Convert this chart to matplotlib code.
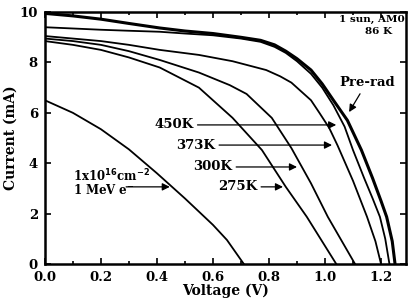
import matplotlib
matplotlib.use("Agg")
import matplotlib.pyplot as plt
from matplotlib.ticker import MultipleLocator

# I-V curves (voltage in V, current in mA)
v_irrad = [0, 0.1, 0.2, 0.3, 0.4, 0.5, 0.6, 0.65, 0.71]
i_irrad = [6.5, 6.0, 5.35, 4.55, 3.6, 2.6, 1.55, 0.95, 0]

v_275 = [0, 0.1, 0.2, 0.3, 0.41, 0.55, 0.67, 0.775, 0.86, 0.935, 1.04]
i_275 = [8.85, 8.7, 8.5, 8.2, 7.8, 7.0, 5.8, 4.52, 3.06, 1.87, 0]

v_300 = [0, 0.1, 0.2, 0.3, 0.41, 0.55, 0.66, 0.72, 0.81, 0.88, 0.95, 1.01, 1.107]
i_300 = [8.95, 8.85, 8.7, 8.45, 8.1, 7.6, 7.1, 6.75, 5.8, 4.6, 3.2, 1.87, 0]

v_373 = [0, 0.1, 0.2, 0.3, 0.41, 0.55, 0.67, 0.79, 0.84, 0.88, 0.91, 0.95, 0.98, 1.015,
         1.045, 1.1, 1.15, 1.18, 1.2]
i_373 = [9.05, 8.95, 8.85, 8.7, 8.5, 8.3, 8.05, 7.7, 7.45, 7.2, 6.9, 6.5, 6.0, 5.4,
         4.7, 3.3, 1.87, 0.9, 0]

v_450 = [0, 0.1, 0.2, 0.3, 0.41, 0.5, 0.6, 0.7, 0.77, 0.82, 0.86, 0.9, 0.95, 0.99, 1.03,
         1.07, 1.1, 1.14, 1.17, 1.196, 1.215, 1.23]
i_450 = [9.4, 9.35, 9.3, 9.26, 9.22, 9.15, 9.08, 8.95, 8.82, 8.62, 8.38, 8.05, 7.55, 7.0, 6.3,
         5.45, 4.52, 3.4, 2.6, 1.87, 1.0, 0]

v_pre = [0, 0.1, 0.2, 0.3, 0.41, 0.5, 0.6, 0.7, 0.77, 0.82, 0.86, 0.9, 0.95, 0.99, 1.03,
         1.08, 1.13, 1.17, 1.2, 1.22, 1.24, 1.25]
i_pre = [9.95, 9.85, 9.72, 9.55, 9.37, 9.25, 9.15, 9.0, 8.88, 8.7, 8.45, 8.15, 7.7, 7.15, 6.5,
         5.7, 4.52, 3.4, 2.5, 1.87, 0.9, 0]

anneal_labels = ["450K", "373K", "300K", "275K"]
anneal_text_xy = [(0.53, 5.52), (0.607, 4.72), (0.668, 3.85), (0.757, 3.06)]
anneal_tip_xy = [(1.04, 5.52), (1.025, 4.72), (0.90, 3.85), (0.85, 3.06)]

plt.rcParams['font.family'] = ['DejaVu Serif']
plt.rcParams['font.weight'] = 'bold'

fig = plt.figure(figsize=(4.08, 3.03), dpi=100)
ax = fig.add_axes([0.11, 0.129, 0.885, 0.831])

thin = dict(color='k', lw=1.3)
ax.plot(v_irrad, i_irrad, **thin)
ax.plot(v_275, i_275, **thin)
ax.plot(v_300, i_300, **thin)
ax.plot(v_373, i_373, **thin)
ax.plot(v_450, i_450, **thin)
ax.plot(v_pre, i_pre, color='k', lw=2.2)

arrow = dict(arrowstyle='-|>', color='k', lw=0.9, mutation_scale=11, relpos=(1, 0.5),
             shrinkA=1, shrinkB=0)
for lab, txy, tip in zip(anneal_labels, anneal_text_xy, anneal_tip_xy):
    ax.annotate(lab, xy=tip, xytext=txy, ha='right', va='center', fontsize=9.5,
                fontweight='bold', arrowprops=arrow)

ax.annotate("", xy=(0.446, 3.06), xytext=(0.285, 3.06), arrowprops=arrow)
ax.text(0.1, 3.5, r"1x10$^{\mathbf{16}}$cm$^{\mathbf{-2}}$", fontsize=8.5, fontweight='bold',
        ha='left', va='center')
ax.text(0.1, 2.95, r"1 MeV e$^{\mathbf{-}}$", fontsize=8.5, fontweight='bold',
        ha='left', va='center')

ax.annotate("Pre-rad", xy=(1.086, 6.03), xytext=(1.15, 7.22), ha='center', va='center',
            fontsize=9.5, fontweight='bold',
            arrowprops=dict(arrowstyle='-|>', color='k', lw=0.9, mutation_scale=11,
                            shrinkA=2, shrinkB=0))

ax.text(1.283, 9.7, "1 sun, AM0", ha='right', va='center', fontsize=7.5, fontweight='bold')
ax.text(1.19, 9.22, "86 K", ha='center', va='center', fontsize=7.5, fontweight='bold')

ax.set_xlim(0, 1.289)
ax.set_ylim(0, 10)
ax.xaxis.set_major_locator(MultipleLocator(0.2))
ax.xaxis.set_minor_locator(MultipleLocator(0.1))
ax.yaxis.set_major_locator(MultipleLocator(2))
ax.xaxis.set_major_formatter(matplotlib.ticker.FormatStrFormatter('%.1f'))
ax.tick_params(which='both', direction='in', top=True, right=True, labelsize=9.5, width=1.2)
ax.tick_params(which='major', length=4)
ax.tick_params(which='minor', length=2.5)
ax.tick_params(axis='y', pad=5)
ax.tick_params(axis='x', pad=5)
for s in ax.spines.values():
    s.set_linewidth(1.8)

ax.set_xlabel("Voltage (V)", fontsize=10, fontweight='bold', labelpad=0)
ax.set_ylabel("Current (mA)", fontsize=10, fontweight='bold', labelpad=1)

fig.savefig("out.png", dpi=100)
